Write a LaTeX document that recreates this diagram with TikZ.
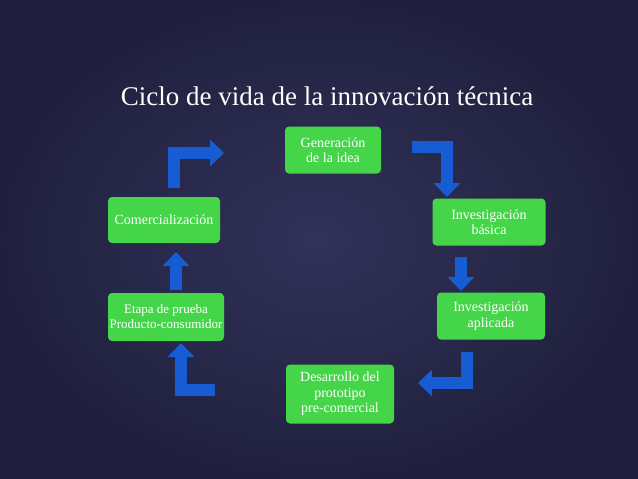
\documentclass[tikz,border=0pt]{standalone}
\usepackage{fontspec}
\setmainfont{Liberation Serif}
\usetikzlibrary{arrows.meta}
\definecolor{bgnavy}{RGB}{50,50,90}
\definecolor{bgdark}{RGB}{32,32,62}
\definecolor{stepgreen}{RGB}{68,214,72}
\definecolor{arrowblue}{RGB}{22,92,210}
\begin{document}
\begin{tikzpicture}[
    x=1pt, y=-1pt,
    stage/.style={
        fill=stepgreen,
        rounded corners=4pt,
        text=white,
        align=center,
        inner sep=1pt,
        font=\fontsize{14}{15.5}\selectfont
    },
    flow/.style={
        draw=arrowblue,
        line width=12pt,
        -{Triangle[width=26pt,length=14pt]}
    },
    ]
    \shade[inner color=bgnavy, outer color=bgdark] (0,0) rectangle (638,479);
    \useasboundingbox (0,0) rectangle (638,479);
    \node[text=white, font=\fontsize{27}{30}\selectfont] (title) at (327,96)
        {Ciclo de vida de la innovación técnica};
    % stages
    \node[stage, minimum width=96pt, minimum height=47pt] (idea) at (333,150)
        {Generación\\de la idea};
    \node[stage, minimum width=113pt, minimum height=47pt] (basica) at (489,222)
        {Investigación\\básica};
    \node[stage, minimum width=108pt, minimum height=47pt] (aplicada) at (491,316)
        {Investigación\\aplicada};
    \node[stage, minimum width=108pt, minimum height=59pt] (proto) at (340,394)
        {Desarrollo del\\prototipo\\pre-comercial};
    \node[stage, minimum width=116pt, minimum height=48pt, inner sep=0pt,
        font=\fontsize{13}{15}\selectfont] (prueba) at (166,317)
        {Etapa de prueba\\Producto-consumidor};
    \node[stage, minimum width=112pt, minimum height=46pt] (comer) at (164,220)
        {Comercialización};
    % arrows
    \coordinate (a1) at (412,147);
    \coordinate (a2) at (461,257);
    \coordinate (a3) at (467,352);
    \coordinate (a4) at (215,390);
    \coordinate (a5) at (176,290);
    \coordinate (a6) at (174,188);
    \draw[flow] (a1) -| (447,197);
    \draw[flow] (a2) -- (461,291);
    \draw[flow] (a3) |- (418,383);
    \draw[flow] (a4) -| (181,343);
    \draw[flow] (a5) -- (176,252);
    \draw[flow] (a6) |- (224,153);
\end{tikzpicture}
\end{document}
